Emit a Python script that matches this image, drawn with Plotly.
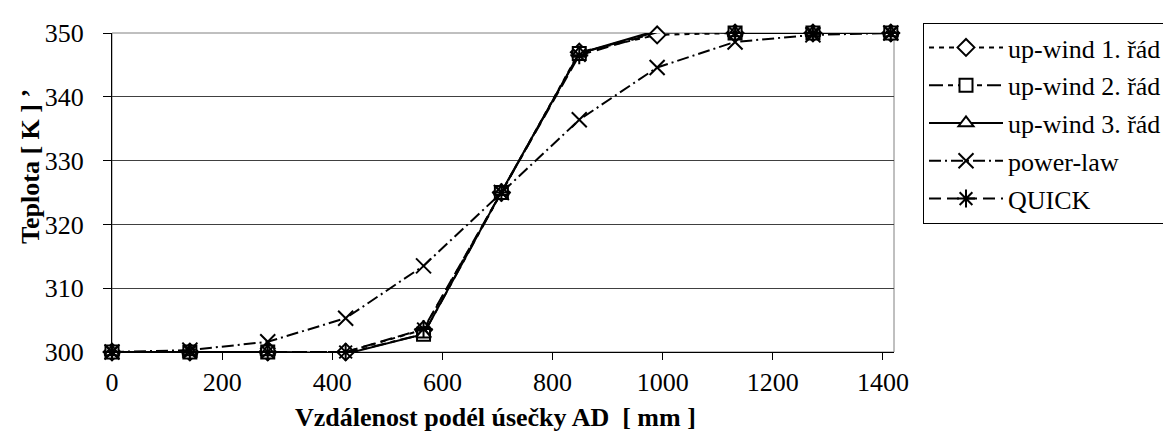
import plotly.graph_objects as go

# Data (distance along segment AD in mm, temperature in K)
distance = [0, 141.4, 282.8, 424.3, 565.7, 707.1, 848.5, 989.9, 1131.4, 1272.8, 1414.2]
upwind1 = [300, 300, 300, 300, 303.5, 325, 347.0, 349.7, 350, 350, 350]
upwind2 = [300, 300, 300, 299.8, 302.8, 325, 346.8, 350.2, 350, 350, 350]
upwind3 = [300, 300, 300, 299.7, 302.8, 325.1, 346.8, 350.4, 350, 350, 350]
powerlaw = [300, 300.3, 301.6, 305.3, 313.5, 325, 336.4, 344.6, 348.6, 349.7, 350]
quick = [300, 300, 300, 300, 303.6, 325, 346.5, 350.1, 350, 350, 350]

series_names = ["up-wind 1. řád", "up-wind 2. řád", "up-wind 3. řád", "power-law", "QUICK"]
x_ticks = [0, 200, 400, 600, 800, 1000, 1200, 1400]
y_ticks = [300, 310, 320, 330, 340, 350]

FONT = "Liberation Serif, Times New Roman, serif"

styles = [
    dict(dash="5px,5px", symbol="diamond", size=13),
    dict(dash="14px,5px,5px,5px", symbol="square", size=13),
    dict(dash="solid", symbol="triangle-up", size=13),
    dict(dash="12px,4px,2px,4px", symbol="x-thin", size=15),
    dict(dash="12px,6px", symbol="asterisk", size=15),
]
values = [upwind1, upwind2, upwind3, powerlaw, quick]

fig = go.Figure()
for name, vals, st in zip(series_names, values, styles):
    filled = st["symbol"] in ("diamond", "square", "triangle-up")
    fig.add_trace(go.Scatter(
        x=distance, y=vals, name=name, mode="lines+markers",
        legendgroup=name,
        line=dict(color="black", width=2, dash=st["dash"]),
        marker=dict(symbol=st["symbol"], size=st["size"],
                    color="white" if filled else "black",
                    line=dict(color="black", width=2)),
        cliponaxis=False,
    ))

fig.update_layout(
    width=1171, height=432,
    margin=dict(l=104, r=285, t=25, b=88),
    paper_bgcolor="white", plot_bgcolor="white",
    font=dict(family=FONT, size=26, color="black"),
    showlegend=True,
    legend=dict(
        x=915 / 1171, y=1 - 15 / 432, xref="container", yref="container",
        xanchor="left", yanchor="top",
        bordercolor="black", borderwidth=1, bgcolor="white",
        font=dict(family=FONT, size=26, color="black"),
        itemwidth=74, tracegroupgap=1,
    ),
    xaxis=dict(
        range=[0, 1420], tickvals=x_ticks, ticktext=[str(v) for v in x_ticks],
        showgrid=False, zeroline=False,
        showline=True, linecolor="black", linewidth=1,
        ticks="outside", ticklen=7, tickcolor="black", tickwidth=1,
        tickfont=dict(family=FONT, size=26, color="black"),
    ),
    yaxis=dict(
        range=[300, 350], tickvals=y_ticks, ticktext=[str(v) for v in y_ticks],
        showgrid=True, gridcolor="#404040", gridwidth=1, zeroline=False,
        showline=True, linecolor="black", linewidth=1,
        ticks="outside", ticklen=8, tickcolor="black", tickwidth=1,
        tickfont=dict(family=FONT, size=26, color="black"),
        ticklabelstandoff=14,
    ),
    shapes=[dict(type="rect", xref="x domain", yref="y domain",
                 x0=0, x1=1, y0=0, y1=1, line=dict(color="#808080", width=1),
                 layer="below")],
    annotations=[
        dict(text="<b>Vzdálenost podél úsečky AD\u00a0 [ mm ]</b>",
             xref="paper", yref="paper", x=0.49, y=-0.205,
             xanchor="center", yanchor="middle", showarrow=False,
             font=dict(family=FONT, size=26, color="black")),
        dict(text="<b>Teplota [ K ] ’</b>",
             xref="paper", yref="paper", x=-0.105, y=0.583,
             xanchor="center", yanchor="middle", showarrow=False, textangle=-90,
             font=dict(family=FONT, size=26, color="black")),
    ],
)

fig.write_html("out.html")
